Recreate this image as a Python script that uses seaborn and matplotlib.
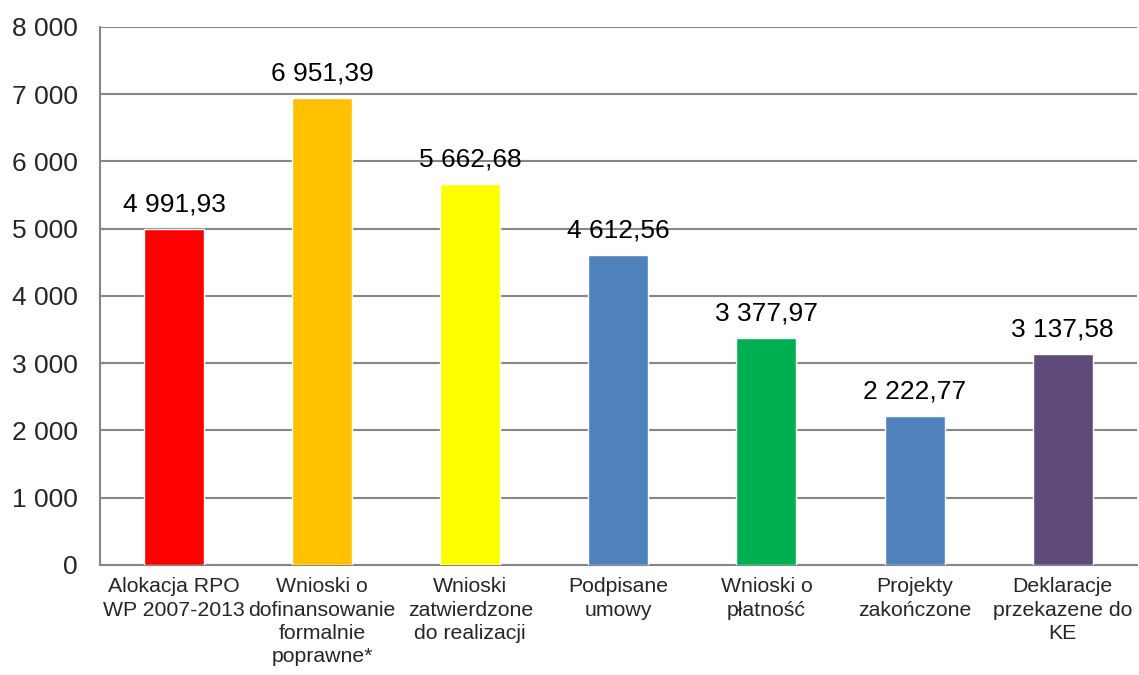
import matplotlib
matplotlib.use("Agg")
import matplotlib.pyplot as plt
import seaborn as sns
import pandas as pd
from matplotlib.ticker import FuncFormatter

# -----------------------------
# Data
# -----------------------------
categories = [
    "Alokacja RPO\nWP 2007-2013",
    "Wnioski o\ndofinansowanie\nformalnie\npoprawne*",
    "Wnioski\nzatwierdzone\ndo realizacji",
    "Podpisane\numowy",
    "Wnioski o\npłatność",
    "Projekty\nzakończone",
    "Deklaracje\nprzekazene do\nKE",
]
values = [4991.93, 6951.39, 5662.68, 4612.56, 3377.97, 2222.77, 3137.58]
colors = ["#FF0000", "#FFC000", "#FFFF00", "#4F81BD", "#00B050", "#4F81BD", "#604A7B"]
y_ticks = [0, 1000, 2000, 3000, 4000, 5000, 6000, 7000, 8000]

df = pd.DataFrame({"kategoria": categories, "wartosc": values})

# -----------------------------
# Style
# -----------------------------
sns.set_style("white")
plt.rcParams["font.family"] = ["Liberation Sans", "DejaVu Sans"]

fig = plt.figure(figsize=(11.39, 6.75), dpi=100)
ax = fig.add_axes([0.0878, 0.163, 0.9102, 0.797])

sns.barplot(x="kategoria", y="wartosc", data=df, hue="kategoria",
            palette=colors, legend=False, width=0.405, saturation=1, ax=ax, zorder=3)

def pl_fmt(v):
    s = f"{v:,.2f}"
    return s.replace(",", " ").replace(".", ",")

for i, v in enumerate(values):
    ax.annotate(pl_fmt(v), (i, v), xytext=(0, 9), textcoords="offset points",
                ha="center", va="bottom", fontsize=19, color="black")

ax.set_ylim(0, 8000)
ax.set_xlim(-0.5, len(categories) - 0.5)
ax.set_yticks(y_ticks)
ax.yaxis.set_major_formatter(FuncFormatter(lambda v, p: f"{int(v):,}".replace(",", " ")))
ax.yaxis.grid(True, color="#868686", linewidth=1.5, zorder=0)
ax.set_axisbelow(True)

ax.set_xlabel("")
ax.set_ylabel("")
ax.set_xticks([i - 0.5 for i in range(len(categories) + 1)], minor=True)
ax.tick_params(axis="x", which="major", length=0, labelsize=15.3, pad=9)
ax.tick_params(axis="x", which="minor", length=6, color="#868686", width=1.5)
ax.tick_params(axis="y", length=7, color="#868686", width=1.5, labelsize=19, pad=9)
for lbl in ax.get_xticklabels():
    lbl.set_linespacing(1.28)

for side in ["top", "right"]:
    ax.spines[side].set_visible(False)
for side in ["left", "bottom"]:
    ax.spines[side].set_color("#868686")
    ax.spines[side].set_linewidth(1.5)

fig.savefig("out.png", dpi=100)
